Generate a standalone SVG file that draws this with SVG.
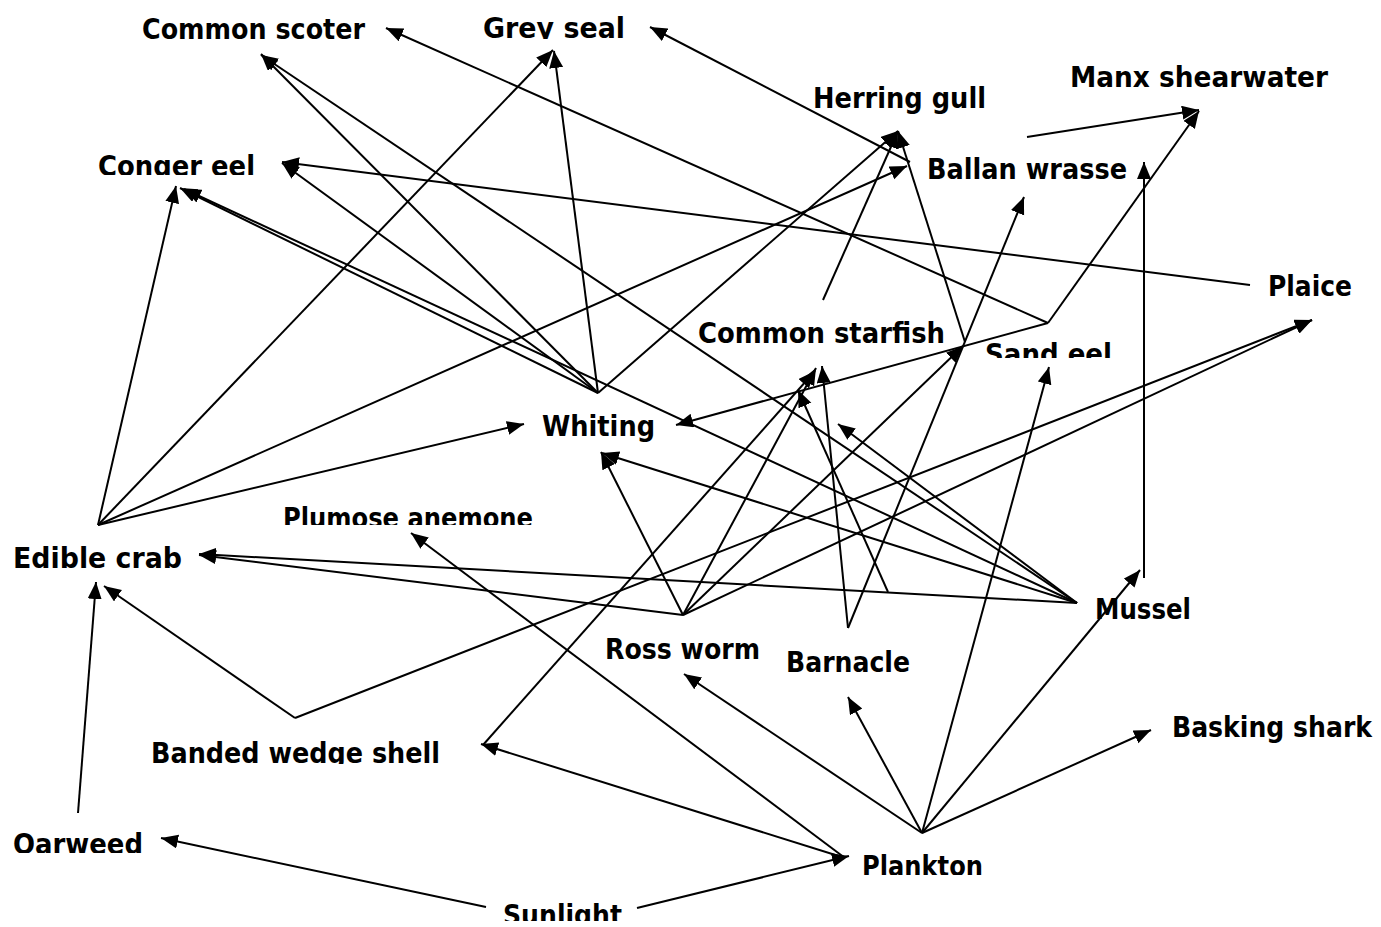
<svg xmlns="http://www.w3.org/2000/svg" width="1381" height="927" viewBox="0 0 1381 927">
<style>
.t{font-family:"Comic Sans MS","DejaVu Sans","Liberation Sans",sans-serif;font-weight:bold;font-size:28px;fill:#000}
.c line{stroke:#000;stroke-width:2;marker-end:url(#ah)}
</style>
<defs>
<marker id="ah" markerUnits="userSpaceOnUse" markerWidth="18" markerHeight="15" refX="17" refY="7" orient="auto"><path d="M0,0 L17,7 L0,14 z" fill="#000"/></marker>
<clipPath id="cGrey"><rect x="470" y="0" width="170" height="39"/></clipPath>
<clipPath id="cConger"><rect x="90" y="140" width="180" height="35"/></clipPath>
<clipPath id="cSand"><rect x="975" y="330" width="150" height="28"/></clipPath>
<clipPath id="cPlum"><rect x="275" y="495" width="270" height="30"/></clipPath>
<clipPath id="cBand"><rect x="140" y="730" width="310" height="34"/></clipPath>
<clipPath id="cOar"><rect x="5" y="820" width="150" height="33"/></clipPath>
<clipPath id="cPlank"><rect x="850" y="840" width="145" height="35"/></clipPath>
<clipPath id="cSun"><rect x="495" y="890" width="140" height="31"/></clipPath>
</defs>
<rect width="1381" height="927" fill="#fff"/>
<g id="connectors" class="c">
<line x1="98" y1="525" x2="176" y2="186"/>
<line x1="98" y1="525" x2="553" y2="50"/>
<line x1="98" y1="525" x2="907" y2="166"/>
<line x1="98" y1="525" x2="524" y2="424"/>
<line x1="598" y1="393" x2="261" y2="54"/>
<line x1="598" y1="393" x2="282" y2="163"/>
<line x1="598" y1="393" x2="180" y2="188"/>
<line x1="598" y1="393" x2="554" y2="51"/>
<line x1="598" y1="393" x2="898" y2="131"/>
<line x1="1077" y1="603" x2="184" y2="189"/>
<line x1="1077" y1="603" x2="261" y2="55"/>
<line x1="1250" y1="285" x2="282" y2="162"/>
<line x1="1048" y1="323" x2="386" y2="28"/>
<line x1="910" y1="162" x2="650" y2="27"/>
<line x1="1027" y1="137" x2="1199" y2="110"/>
<line x1="1048" y1="323" x2="1199" y2="111"/>
<line x1="1048" y1="323" x2="676" y2="425"/>
<line x1="823" y1="300" x2="898" y2="131"/>
<line x1="965" y1="342" x2="898" y2="131"/>
<line x1="848" y1="628" x2="1024" y2="197"/>
<line x1="1144" y1="578" x2="1144" y2="162"/>
<line x1="683" y1="615" x2="963" y2="346"/>
<line x1="683" y1="615" x2="816" y2="368"/>
<line x1="683" y1="615" x2="601" y2="452"/>
<line x1="683" y1="615" x2="1312" y2="320"/>
<line x1="683" y1="615" x2="199" y2="555"/>
<line x1="295" y1="718" x2="1312" y2="320"/>
<line x1="295" y1="718" x2="104" y2="586"/>
<line x1="483" y1="745" x2="815" y2="371"/>
<line x1="848" y1="628" x2="822" y2="366"/>
<line x1="888" y1="592" x2="798" y2="390"/>
<line x1="1077" y1="603" x2="838" y2="424"/>
<line x1="1077" y1="603" x2="602" y2="453"/>
<line x1="1077" y1="603" x2="199" y2="554"/>
<line x1="922" y1="833" x2="684" y2="674"/>
<line x1="922" y1="833" x2="848" y2="697"/>
<line x1="922" y1="833" x2="1049" y2="367"/>
<line x1="922" y1="833" x2="1140" y2="570"/>
<line x1="922" y1="833" x2="1151" y2="730"/>
<line x1="845" y1="858" x2="481" y2="744"/>
<line x1="845" y1="858" x2="411" y2="533"/>
<line x1="637" y1="908" x2="849" y2="856"/>
<line x1="486" y1="907" x2="161" y2="838"/>
<line x1="78" y1="813" x2="96" y2="582"/>
</g>
<g id="common-scoter"><text class="t" x="142" y="39" textLength="223" lengthAdjust="spacingAndGlyphs">Common scoter</text></g>
<g id="grey-seal" clip-path="url(#cGrey)"><text class="t" x="483" y="38" textLength="142" lengthAdjust="spacingAndGlyphs">Grey seal</text></g>
<g id="herring-gull"><text class="t" x="813" y="108" textLength="173" lengthAdjust="spacingAndGlyphs">Herring gull</text></g>
<g id="manx-shearwater"><text class="t" x="1070" y="87" textLength="258" lengthAdjust="spacingAndGlyphs">Manx shearwater</text></g>
<g id="conger-eel" clip-path="url(#cConger)"><text class="t" x="98" y="176" textLength="157" lengthAdjust="spacingAndGlyphs">Conger eel</text></g>
<g id="ballan-wrasse"><text class="t" x="927" y="179" textLength="200" lengthAdjust="spacingAndGlyphs">Ballan wrasse</text></g>
<g id="plaice"><text class="t" x="1268" y="296" textLength="84" lengthAdjust="spacingAndGlyphs">Plaice</text></g>
<g id="common-starfish"><text class="t" x="698" y="343" textLength="247" lengthAdjust="spacingAndGlyphs">Common starfish</text></g>
<g id="sand-eel" clip-path="url(#cSand)"><text class="t" x="985" y="364" textLength="127" lengthAdjust="spacingAndGlyphs">Sand eel</text></g>
<g id="whiting"><text class="t" x="542" y="436" textLength="113" lengthAdjust="spacingAndGlyphs">Whiting</text></g>
<g id="plumose-anemone" clip-path="url(#cPlum)"><text class="t" x="283" y="528" textLength="250" lengthAdjust="spacingAndGlyphs">Plumose anemone</text></g>
<g id="edible-crab"><text class="t" x="13" y="568" textLength="169" lengthAdjust="spacingAndGlyphs">Edible crab</text></g>
<g id="mussel"><text class="t" x="1095" y="619" textLength="96" lengthAdjust="spacingAndGlyphs">Mussel</text></g>
<g id="ross-worm"><text class="t" x="605" y="659" textLength="155" lengthAdjust="spacingAndGlyphs">Ross worm</text></g>
<g id="barnacle"><text class="t" x="786" y="672" textLength="124" lengthAdjust="spacingAndGlyphs">Barnacle</text></g>
<g id="basking-shark"><text class="t" x="1172" y="737" textLength="200" lengthAdjust="spacingAndGlyphs">Basking shark</text></g>
<g id="banded-wedge-shell" clip-path="url(#cBand)"><text class="t" x="151" y="763" textLength="289" lengthAdjust="spacingAndGlyphs">Banded wedge shell</text></g>
<g id="oarweed" clip-path="url(#cOar)"><text class="t" x="13" y="854" textLength="130" lengthAdjust="spacingAndGlyphs">Oarweed</text></g>
<g id="plankton" clip-path="url(#cPlank)"><text class="t" x="862" y="876" textLength="121" lengthAdjust="spacingAndGlyphs">Plankton</text></g>
<g id="sunlight" clip-path="url(#cSun)"><text class="t" x="503" y="925" textLength="119" lengthAdjust="spacingAndGlyphs">Sunlight</text></g>
</svg>
